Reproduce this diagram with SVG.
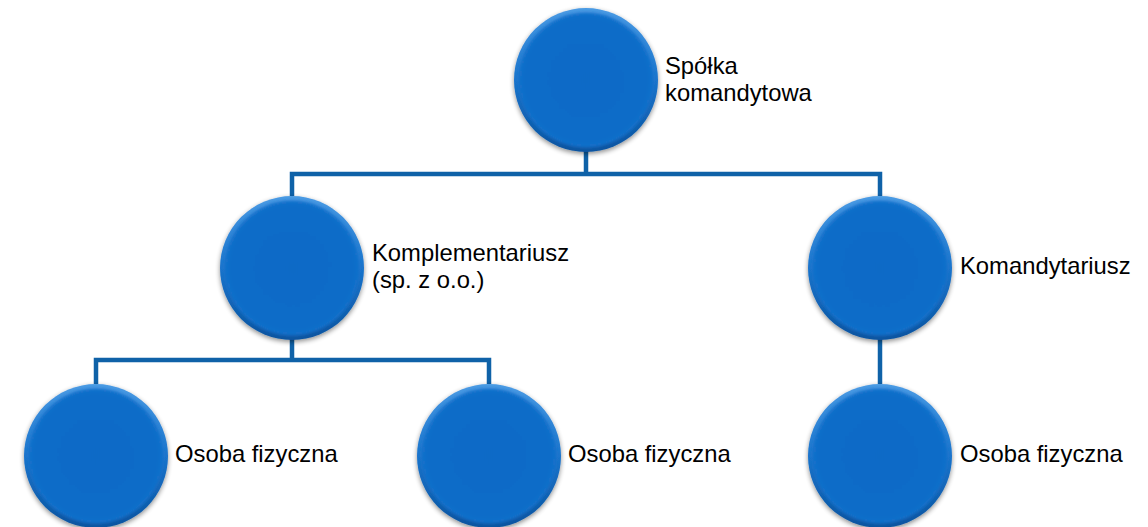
<svg xmlns="http://www.w3.org/2000/svg" width="1148" height="527" viewBox="0 0 1148 527">
<style>
.lbl{font-family:"Liberation Sans",Arial,sans-serif;font-size:23.8px;fill:#000}
.ln{stroke:#0f62a8;stroke-width:4.5;fill:none}
</style>
<defs>
<linearGradient id="rim" x1="0" y1="0" x2="0" y2="1">
<stop offset="0" stop-color="#4b9be4"/>
<stop offset="0.5" stop-color="#1a74cc"/>
<stop offset="1" stop-color="#0a539f"/>
</linearGradient>
<radialGradient id="face" cx="0.5" cy="0.5" r="0.5">
<stop offset="0" stop-color="#0b6ac6"/>
<stop offset="0.9" stop-color="#0c6cc8"/>
<stop offset="1" stop-color="#1571cb"/>
</radialGradient>
<filter id="sh" x="-20%" y="-20%" width="140%" height="140%">
<feGaussianBlur in="SourceAlpha" stdDeviation="2.5"/>
<feOffset dx="0" dy="2" result="b"/>
<feComponentTransfer><feFuncA type="linear" slope="0.45"/></feComponentTransfer>
<feMerge><feMergeNode/><feMergeNode in="SourceGraphic"/></feMerge>
</filter>
<filter id="soft"><feGaussianBlur stdDeviation="1.5"/></filter>
<g id="ball">
<circle r="72" fill="url(#rim)" filter="url(#sh)"/>
<circle r="67.5" fill="url(#face)" filter="url(#soft)"/>
</g>
</defs>
<g id="connectors">
<path class="ln" d="M586 150V174M292 196V174H880V196"/>
<path class="ln" d="M292 338V360M96 384V360H489V384"/>
<path class="ln" d="M880 338V384"/>
</g>
<g id="n-spolka"><use href="#ball" x="586" y="80"/><text class="lbl" x="665" y="74">Spółka</text><text class="lbl" x="665" y="101">komandytowa</text></g>
<g id="n-kompl"><use href="#ball" x="292" y="268"/><text class="lbl" x="372" y="261">Komplementariusz</text><text class="lbl" x="372" y="288">(sp. z o.o.)</text></g>
<g id="n-koman"><use href="#ball" x="880" y="268"/><text class="lbl" x="960" y="274">Komandytariusz</text></g>
<g id="n-os1"><use href="#ball" x="96" y="456"/><text class="lbl" x="175" y="462">Osoba fizyczna</text></g>
<g id="n-os2"><use href="#ball" x="489" y="456"/><text class="lbl" x="568" y="462">Osoba fizyczna</text></g>
<g id="n-os3"><use href="#ball" x="880" y="456"/><text class="lbl" x="960" y="462">Osoba fizyczna</text></g>
</svg>
